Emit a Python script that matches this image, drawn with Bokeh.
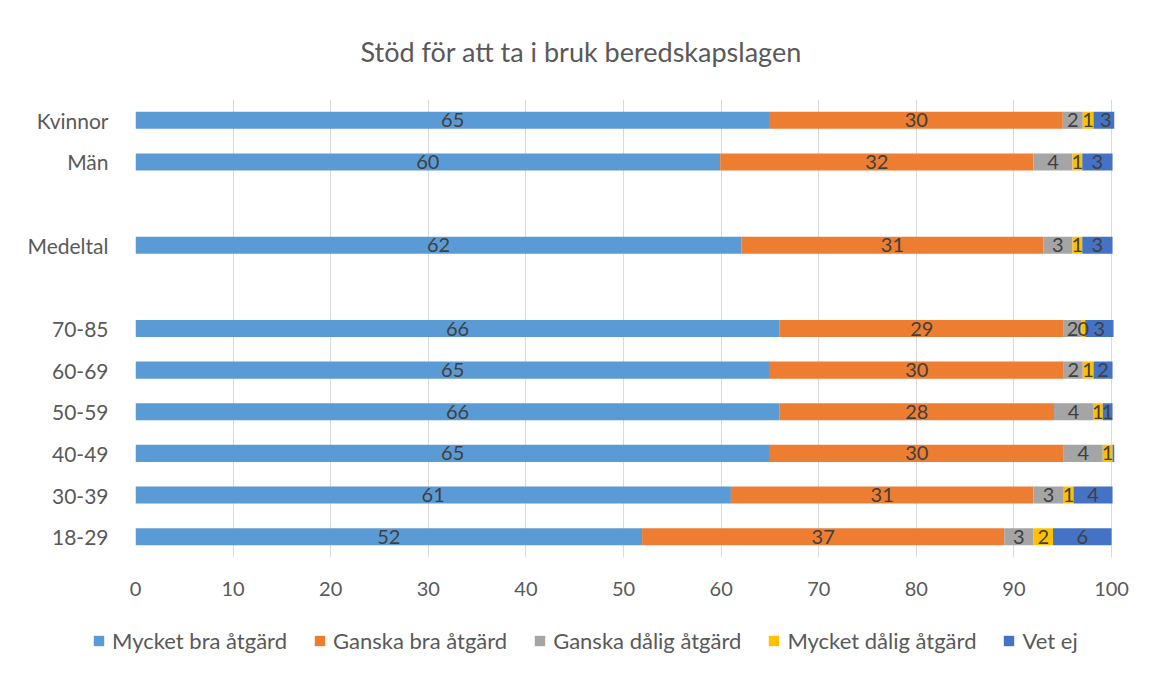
from bokeh.plotting import figure
from bokeh.models import (ColumnDataSource, FactorRange, Range1d, FixedTicker,
                          Legend, LegendItem)
from bokeh.layouts import column
from bokeh.core.properties import value
from bokeh.embed import file_html
from bokeh.resources import INLINE

# ---- data ----
categories = ["18-29", "30-39", "40-49", "50-59", "60-69", "70-85", " ",
              "Medeltal", "  ", "Män", "Kvinnor"]
series = ["Mycket bra åtgärd", "Ganska bra åtgärd", "Ganska dålig åtgärd",
          "Mycket dålig åtgärd", "Vet ej"]
mycket_bra = [51.9, 61.0, 65.0, 66.0, 65.0, 66.0, 0, 62.1, 0, 59.9, 65.0]
ganska_bra = [37.1, 31.0, 30.1, 28.1, 30.1, 29.1, 0, 30.9, 0, 32.1, 30.0]
ganska_dalig = [3.0, 3.1, 4.0, 4.0, 1.95, 1.8, 0, 3.0, 0, 4.0, 2.05]
mycket_dalig = [2.0, 1.0, 1.0, 1.0, 1.1, 0.4, 0, 1.0, 0, 1.0, 1.1]
vet_ej = [6.0, 4.0, 0.2, 1.0, 1.95, 2.9, 0, 3.1, 0, 3.1, 2.5]
x_ticks = [0, 10, 20, 30, 40, 50, 60, 70, 80, 90, 100]
colors = ["#5B9BD5", "#ED7D31", "#A5A5A5", "#FFC000", "#4472C4"]

cols = ["s0", "s1", "s2", "s3", "s4"]
all_vals = [mycket_bra, ganska_bra, ganska_dalig, mycket_dalig, vet_ej]
data = {"cat": categories}
for c, v in zip(cols, all_vals):
    data[c] = v
source = ColumnDataSource(data)

FONT = "Lato"
GREY = "#595959"

p = figure(width=1152, height=610, y_range=FactorRange(factors=categories),
           x_range=Range1d(0, 100.3), output_backend="svg",
           toolbar_location=None, title="Stöd för att ta i bruk beredskapslagen",
           min_border_left=135, min_border_right=38, min_border_top=97,
           min_border_bottom=53)

renderers = p.hbar_stack(cols, y="cat", height=0.41, color=colors,
                         line_color=None, source=source)

# data labels
lx, ly, lt = [], [], []
for i, cat in enumerate(categories):
    cum = 0.0
    for v in all_vals:
        val = v[i]
        if val >= 0.35:
            lx.append(cum + val / 2.0)
            ly.append(cat)
            lt.append(str(int(val + 0.5)))
        cum += val
p.text(x=lx, y=ly, text=lt, text_align="center", text_baseline="middle",
       text_font=value(FONT), text_font_size="20px", text_color="#404040")

# title
p.title.align = "left"
p.title.offset = 225
p.title.text_font = FONT
p.title.text_font_size = "27px"
p.title.text_font_style = "normal"
p.title.text_color = GREY
p.title.standoff = 64

# axes
p.xaxis.ticker = FixedTicker(ticks=x_ticks)
for ax in (p.xaxis[0], p.yaxis[0]):
    ax.axis_line_color = None
    ax.major_tick_line_color = None
    ax.minor_tick_line_color = None
    ax.major_tick_out = 0
    ax.major_tick_in = 0
    ax.major_label_text_font = FONT
    ax.major_label_text_color = GREY
p.xaxis.major_label_text_font_size = "20px"
p.yaxis.major_label_text_font_size = "21px"
p.xaxis.major_label_standoff = 24
p.yaxis.major_label_standoff = 27

p.xgrid.grid_line_color = "#d9d9d9"
p.ygrid.grid_line_color = None
p.outline_line_color = None

# legend strip below the chart (its bars are hidden; only the legend shows)
p2 = figure(width=1152, height=63, x_range=Range1d(1000, 1001),
            y_range=FactorRange(factors=categories),
            output_backend="svg", toolbar_location=None,
            x_axis_location=None, y_axis_location=None,
            min_border_left=0, min_border_right=0, min_border_top=0,
            min_border_bottom=0)
for fig in (p, p2):
    if "frame_align" in fig.properties():
        fig.frame_align = False
p2.grid.visible = False
p2.outline_line_color = None
leg_rs = p2.hbar_stack(cols, y="cat", height=0.41, color=colors,
                       line_color=None, source=source)
for r in leg_rs:
    r.visible = False

legend = Legend(items=[LegendItem(label=s, renderers=[r]) for s, r in zip(series, leg_rs)],
                orientation="horizontal", location=(92, 19),
                label_text_font=FONT, label_text_font_size="22px",
                label_text_color=GREY, glyph_width=13, glyph_height=13,
                label_height=24, label_standoff=7, spacing=26,
                border_line_color=None, background_fill_alpha=0,
                inactive_fill_alpha=0, margin=0, padding=0)
p2.add_layout(legend, "center")

layout = column(p, p2, spacing=0)
open("out.html", "w").write(file_html(layout, INLINE))
